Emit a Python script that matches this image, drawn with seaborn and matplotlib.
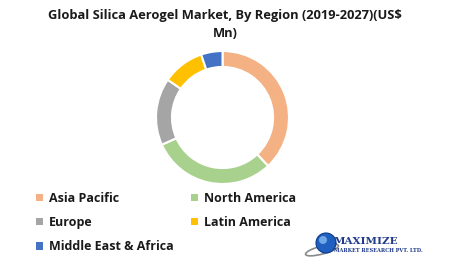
import matplotlib
matplotlib.use("Agg")
import matplotlib.pyplot as plt
import seaborn as sns
from matplotlib.patches import Patch, Circle, Ellipse

regions = ["Asia Pacific", "North America", "Europe", "Latin America", "Middle East & Africa"]
shares = [38.0, 30.3, 16.3, 10.2, 5.2]
colors = ["#F4B183", "#A9D18E", "#A5A5A5", "#FFC000", "#4472C4"]
title = "Global Silica Aerogel Market, By Region (2019-2027)(US$\nMn)"

sns.set_theme(style="white")
plt.rcParams['font.family'] = ['Open Sans', 'DejaVu Sans']

fig = plt.figure(figsize=(4.5, 2.7), dpi=100)
fig.patch.set_facecolor("white")

ax = fig.add_axes([0.3467, 0.3185, 0.2956, 0.4926])
ax.pie(shares, colors=sns.color_palette(colors), startangle=90, counterclock=False,
       radius=1.0, wedgeprops=dict(width=0.24, edgecolor="white", linewidth=1.5))
ax.set_xlim(-1, 1)
ax.set_ylim(-1, 1)
ax.set_aspect("equal")
ax.axis("off")

fig.text(0.5, 0.965, title, ha="center", va="top", fontsize=9.3, fontweight="bold",
         color="#1a1a1a", linespacing=1.45)

order = [0, 2, 4, 1, 3]
handles = [Patch(facecolor=colors[i], edgecolor="none", label=regions[i]) for i in order]
leg = fig.legend(handles=handles, ncol=2, loc="upper left", bbox_to_anchor=(0.08, 0.29),
                 frameon=False, prop=dict(size=9, weight="bold"), handlelength=0.55,
                 handleheight=0.55, handletextpad=0.5, columnspacing=1.35, labelspacing=0.9,
                 borderpad=0, borderaxespad=0)
for t in leg.get_texts():
    t.set_color("#1a1a1a")

# logo
lax = fig.add_axes([0, 0, 1, 1], facecolor="none")
lax.set_xlim(0, 450)
lax.set_ylim(270, 0)
lax.axis("off")
lax.add_patch(Ellipse((322, 250), 34, 8, angle=-15, facecolor="none", edgecolor="#8a8a8a", lw=1.2))
lax.add_patch(Circle((326, 243), 10, facecolor="#1f5fbf", edgecolor="#0d3b8a", lw=0.8))
lax.add_patch(Circle((323, 240), 4, facecolor="#6fa8e8", edgecolor="none"))
lax.text(334, 241, "MAXIMIZE", fontsize=7.5, fontweight="bold", family="DejaVu Serif",
         color="#1f3b8a", va="center", ha="left")
lax.text(334, 250, "MARKET RESEARCH PVT. LTD.", fontsize=3.6, fontweight="bold",
         family="DejaVu Serif", color="#1f3b8a", va="center", ha="left")

fig.savefig("out.png", dpi=100, facecolor="white")
